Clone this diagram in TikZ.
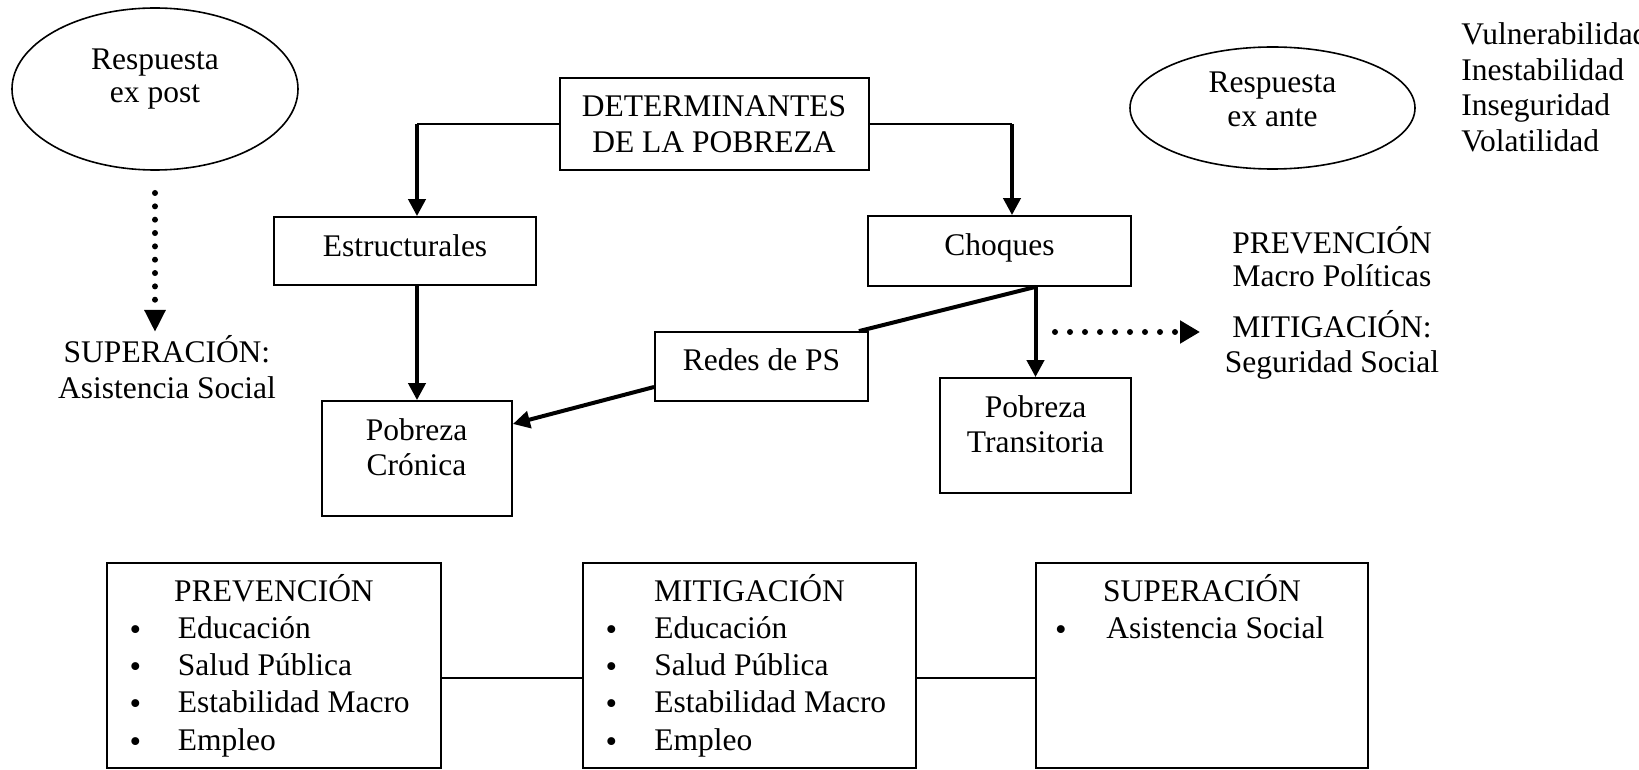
\documentclass[tikz,border=0pt]{standalone}
\usepackage{fontspec}
\setmainfont{Liberation Serif}
\usetikzlibrary{arrows.meta,shapes.geometric}
\begin{document}
\begin{tikzpicture}[x=0.5pt,y=-0.5pt,
  box/.style={draw, rectangle, line width=0.9pt, inner sep=0pt},
  oval/.style={draw, ellipse, line width=0.8pt, inner sep=0pt},
  txt/.style={anchor=base, inner sep=0pt, font=\fontsize{15.75pt}{17.5pt}\selectfont},
  ltxt/.style={txt, anchor=base west},
  bul/.style={anchor=base, inner sep=0pt, font=\fontsize{16.5pt}{17pt}\selectfont},
  thinline/.style={line width=0.9pt},
  thickline/.style={line width=2pt},
  arr/.style={line width=2pt, -{Triangle[width=8.5pt,length=8.5pt]}},
  dotv/.style={line width=3pt, line cap=round, dash pattern=on 0pt off 6.67pt, -{Triangle[width=10pt,length=11pt]}},
  doth/.style={line width=3pt, line cap=round, dash pattern=on 0pt off 7.5pt, -{Triangle[width=11pt,length=10pt]}}
]
\useasboundingbox (0,0) rectangle (1639,770);

% ellipses
\node[oval, minimum width=143pt, minimum height=81pt] (expost) at (155,89) {};
\node[txt] (expost1) at (155,70) {Respuesta};
\node[txt] (expost2) at (155,103) {ex post};
\node[oval, minimum width=142.5pt, minimum height=61pt] (exante) at (1272.5,108) {};
\node[txt] (exante1) at (1272.5,93) {Respuesta};
\node[txt] (exante2) at (1272.5,127) {ex ante};

% right list
\node[ltxt] (v1) at (1461,45) {Vulnerabilidad};
\node[ltxt] (v2) at (1461,80.5) {Inestabilidad};
\node[ltxt] (v3) at (1461,116) {Inseguridad};
\node[ltxt] (v4) at (1461,151.5) {Volatilidad};

% main boxes
\node[box, minimum width=154.5pt, minimum height=46pt] (det) at (714.5,124) {};
\node[txt] (det1) at (714,117) {DETERMINANTES};
\node[txt] (det2) at (714,153) {DE LA POBREZA};

\node[box, minimum width=131pt, minimum height=34pt] (es) at (405,251) {};
\node[txt] (es1) at (405,257) {Estructurales};

\node[box, minimum width=131.5pt, minimum height=35pt] (ch) at (999.5,251) {};
\node[txt] (ch1) at (999.5,256) {Choques};

\node[box, minimum width=106.5pt, minimum height=34.5pt] (rd) at (761.5,366.5) {};
\node[txt] (rd1) at (761.5,371) {Redes de PS};

\node[box, minimum width=95pt, minimum height=57.5pt] (pc) at (417,458.5) {};
\node[txt] (pc1) at (416.5,440) {Pobreza};
\node[txt] (pc2) at (416.5,475) {Crónica};

\node[box, minimum width=95.5pt, minimum height=57.5pt] (pt) at (1035.5,435.5) {};
\node[txt] (pt1) at (1035.5,417) {Pobreza};
\node[txt] (pt2) at (1035.5,452) {Transitoria};

% side texts
\node[txt] (sup1) at (167,363) {SUPERACIÓN:};
\node[txt] (sup2) at (167,399) {Asistencia Social};
\node[txt] (pm1) at (1332,254) {PREVENCIÓN};
\node[txt] (pm2) at (1332,287) {Macro Políticas};
\node[txt] (pm3) at (1332,337) {MITIGACIÓN:};
\node[txt] (pm4) at (1332,372) {Seguridad Social};

% connectors of the upper part
\coordinate (c1) at (pc.north |- det.west);
\coordinate (c2) at ([xshift=6.25pt]ch.north |- det.east);
\draw[thinline] (det.west) -- (c1);
\draw[arr] (c1) -- (c1 |- es.north);
\draw[thinline] (det.east) -- (c2);
\draw[arr] (c2) -- (c2 |- ch.north);
\draw[arr] (pc.north |- es.south) -- (pc.north);
\coordinate (chs) at (pt.north |- ch.south);
\draw[thickline] (chs) -- ([xshift=-5pt]rd.north east);
\draw[arr] (chs) -- (pt.north);
\draw[arr] ([yshift=-10.25pt]rd.west) -- ([yshift=17.25pt]pc.east);

% dotted arrows
\coordinate (dl1) at (155,193);
\coordinate (dl2) at (155,332);
\draw[dotv] (dl1) -- (dl2);
\coordinate (dr1) at (1055,332);
\coordinate (dr2) at (1200,332);
\draw[doth] (dr1) -- (dr2);

% bottom boxes
\node[box, minimum width=167pt, minimum height=102.5pt] (b1) at (274,665.5) {};
\node[box, minimum width=166.5pt, minimum height=102.5pt] (b2) at (749.5,665.5) {};
\node[box, minimum width=166pt, minimum height=102.5pt] (b3) at (1202,665.5) {};
\draw[thinline] ([yshift=-6.25pt]b1.east) -- ([yshift=-6.25pt]b2.west);
\draw[thinline] ([yshift=-6.25pt]b2.east) -- ([yshift=-6.25pt]b3.west);

\node[txt] (b1t) at (274,601) {PREVENCIÓN};
\node[bul] (b1d1) at (135.5,640) {•};
\node[ltxt] (b1i1) at (177.5,638) {Educación};
\node[bul] (b1d2) at (135.5,677.5) {•};
\node[ltxt] (b1i2) at (177.5,675.5) {Salud Pública};
\node[bul] (b1d3) at (135.5,714.5) {•};
\node[ltxt] (b1i3) at (177.5,712.5) {Estabilidad Macro};
\node[bul] (b1d4) at (135.5,752) {•};
\node[ltxt] (b1i4) at (177.5,750) {Empleo};

\node[txt] (b2t) at (749.5,601) {MITIGACIÓN};
\node[bul] (b2d1) at (611.5,640) {•};
\node[ltxt] (b2i1) at (654,638) {Educación};
\node[bul] (b2d2) at (611.5,677.5) {•};
\node[ltxt] (b2i2) at (654,675.5) {Salud Pública};
\node[bul] (b2d3) at (611.5,714.5) {•};
\node[ltxt] (b2i3) at (654,712.5) {Estabilidad Macro};
\node[bul] (b2d4) at (611.5,752) {•};
\node[ltxt] (b2i4) at (654,750) {Empleo};

\node[txt] (b3t) at (1202,601) {SUPERACIÓN};
\node[bul] (b3d1) at (1061,640) {•};
\node[ltxt] (b3i1) at (1106,638) {Asistencia Social};
\end{tikzpicture}
\end{document}
